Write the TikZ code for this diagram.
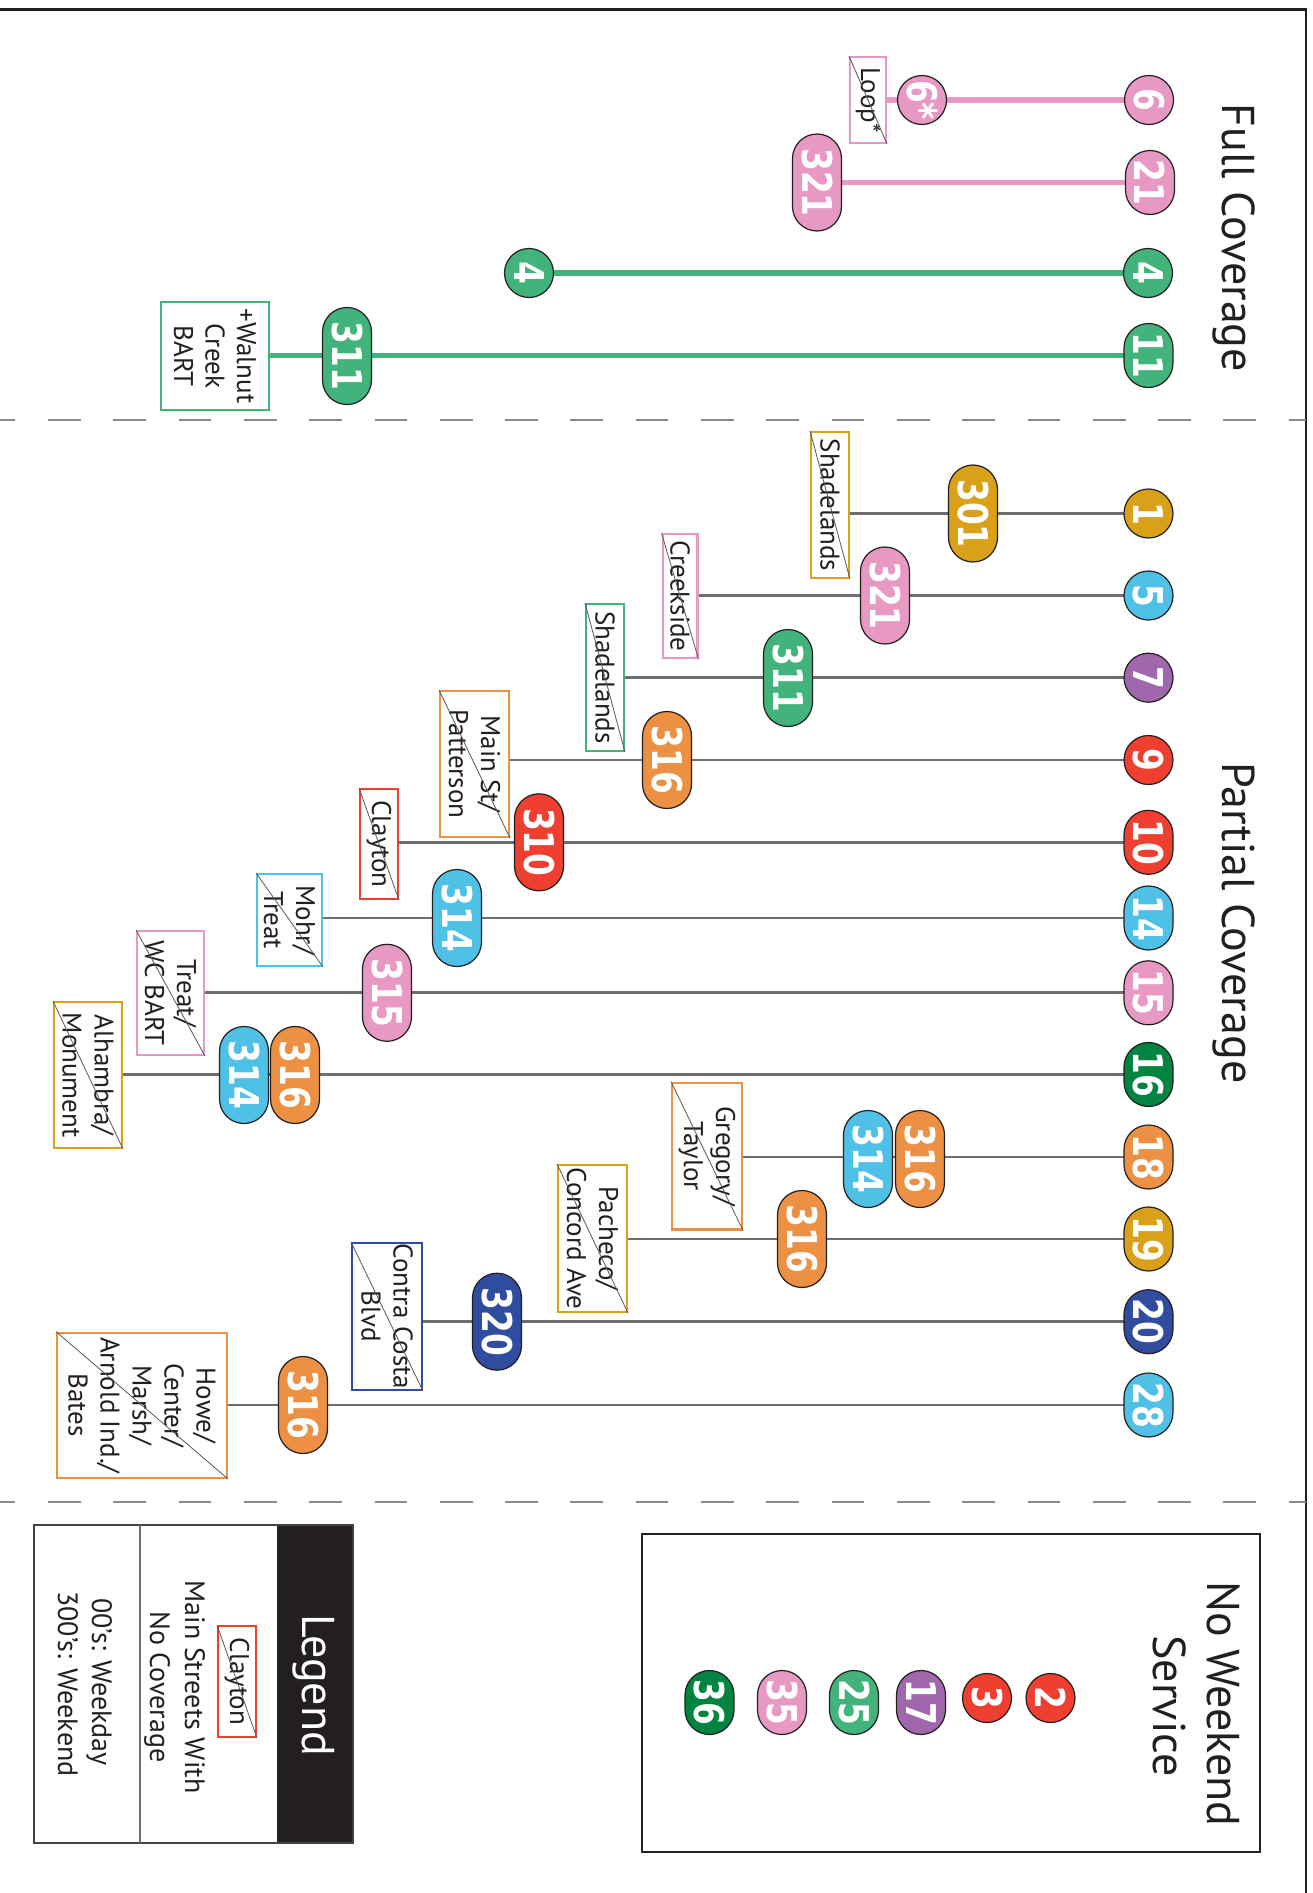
\documentclass[tikz,border=0pt]{standalone}
\usepackage{fontspec}
\setmainfont{PT Sans}
\newfontfamily\badgefont{DejaVu Sans}[FakeStretch=0.8]
\usetikzlibrary{backgrounds}
\definecolor{cpink}{HTML}{E899C3}
\definecolor{cgreen}{HTML}{42B47B}
\definecolor{cdgreen}{HTML}{00843F}
\definecolor{cgold}{HTML}{D9A11A}
\definecolor{cblue}{HTML}{4FC1E6}
\definecolor{cpurple}{HTML}{A167AC}
\definecolor{cred}{HTML}{EE3F31}
\definecolor{corange}{HTML}{EC9143}
\definecolor{cnavy}{HTML}{2F4C9F}
\definecolor{cink}{HTML}{231F20}
\definecolor{cline}{HTML}{6D6E71}
\definecolor{cdash}{HTML}{8A8A8C}
\begin{document}
\begin{tikzpicture}[x=1pt,y=-1pt,
  badge/.style={fill=#1, draw=cink, line width=1.2pt, rounded corners=24.5pt, rotate=-90,
    minimum height=49pt, minimum width=49pt, inner sep=0pt, text=white,
    font=\badgefont\bfseries\fontsize{41}{41}\selectfont},
  onebadge/.style={badge=#1},
  twobadge/.style={badge=#1, minimum width=64pt},
  threebadge/.style={badge=#1, minimum width=97pt},
  lbl/.style={draw=#1, fill=white, line width=2.4pt, rotate=-90, inner sep=0pt, align=center,
    text=cink, font=\fontsize{27}{32}\selectfont},
  strike/.style={draw=cink!75, line width=0.8pt},
  fullline/.style={draw=#1, line width=5.3pt},
  pline/.style={draw=cline, line width=2.7pt},
  title/.style={rotate=-90, anchor=base, inner sep=0pt, text=cink, font=\fontsize{46}{58}\selectfont},
  legtext/.style={rotate=-90, anchor=base, inner sep=0pt, text=cink, font=\fontsize{28}{35}\selectfont},
  sep/.style={draw=cdash, line width=2pt, dash pattern=on 32.7pt off 32.6pt, dash phase=17.3pt},
  frame/.style={draw=cink, line width=2.2pt}
]
\useasboundingbox (0,0) rectangle (1312,1893);

% frame and separators
\draw[frame] (0,9.5) -- (1306,9.5) -- (1306,1893);
\draw[sep] (0,419.5) -- (1306,419.5);
\draw[sep] (0,1502) -- (1306,1502);

% titles
\node[title] (tfull) at (1222,238) {Full Coverage};
\node[title] (tpart) at (1222,923) {Partial Coverage};
\node[title] (tnw1) at (1207,1704) {No Weekend};
\node[title] (tnw2) at (1153,1706) {Service};

% ---------- Full coverage ----------
\node[onebadge=cpink] (f6) at (1149,100) {6};
\node[onebadge=cpink] (f6s) at (922,100) {6*};
\node[lbl=cpink, minimum width=85.6pt, minimum height=35.6pt] (floop) at (868,100) {Loop*};
\draw[strike] (floop.south west) -- (floop.north east);

\node[twobadge=cpink] (f21) at (1150,182.5) {21};
\node[threebadge=cpink] (f321) at (817,182.5) {321};

\node[onebadge=cgreen] (f4r) at (1148,273) {4};
\node[onebadge=cgreen] (f4l) at (529,273) {4};

\node[twobadge=cgreen] (f11) at (1148.5,355.5) {11};
\node[threebadge=cgreen] (f311) at (347,356) {311};
\node[lbl=cgreen, minimum width=107.6pt, minimum height=107.6pt, font=\fontsize{27}{31.5}\selectfont] (fwal) at (215,356) {+Walnut\\Creek\\BART};

\begin{scope}[on background layer]
\draw[fullline=cpink] (f6.center) -- (f6.center -| floop.north);
\draw[fullline=cpink] (f21.center) -- (f21.center -| f321.center);
\draw[fullline=cgreen] (f4r.center) -- (f4l.center);
\draw[fullline=cgreen] (f11.center) -- (f11.center -| fwal.north);
\end{scope}

% ---------- Partial coverage ----------
% row 1
\node[onebadge=cgold] (r1) at (1148.5,513.5) {1};
\node[threebadge=cgold] (m1) at (973,513.5) {301};
\node[lbl=cgold, minimum width=145.6pt, minimum height=37.6pt] (l1) at (830,505) {Shadelands};
% row 5
\node[onebadge=cblue] (r5) at (1148.5,595.5) {5};
\node[threebadge=cpink] (m5) at (885,595.5) {321};
\node[lbl=cpink, minimum width=123.6pt, minimum height=34.6pt] (l5) at (680,596) {Creekside};
% row 7
\node[onebadge=cpurple] (r7) at (1148.5,677.7) {7};
\node[threebadge=cgreen] (m7) at (788,678) {311};
\node[lbl=cgreen, minimum width=146.6pt, minimum height=37.6pt] (l7) at (605,677.5) {Shadelands};
% row 9
\node[onebadge=cred] (r9) at (1148.5,760) {9};
\node[threebadge=corange] (m9) at (667,760) {316};
\node[lbl=corange, minimum width=145.6pt, minimum height=68.6pt] (l9) at (474.5,764) {Main St/\\Patterson};
% row 10
\node[twobadge=cred] (r10) at (1148.5,842.3) {10};
\node[threebadge=cred] (m10) at (539,842.3) {310};
\node[lbl=cred, minimum width=109.6pt, minimum height=37.6pt] (l10) at (379,844) {Clayton};
% row 14
\node[twobadge=cblue] (r14) at (1148.5,918) {14};
\node[threebadge=cblue] (m14) at (457,918) {314};
\node[lbl=cblue, minimum width=91.6pt, minimum height=64.6pt] (l14) at (289.5,920) {Mohr/\\Treat};
% row 15
\node[twobadge=cpink] (r15) at (1148.5,992.8) {15};
\node[threebadge=cpink] (m15) at (387,992.8) {315};
\node[lbl=cpink, minimum width=123.6pt, minimum height=66.6pt] (l15) at (170.5,993) {Treat/\\WC BART};
% row 16
\node[twobadge=cdgreen] (r16) at (1148.5,1074.5) {16};
\node[threebadge=corange] (m16a) at (295,1075) {316};
\node[threebadge=cblue] (m16b) at (244,1075) {314};
\node[lbl=cgold, minimum width=145.6pt, minimum height=67.6pt] (l16) at (88,1075) {Alhambra/\\Monument};
% row 18
\node[twobadge=corange] (r18) at (1148.5,1157) {18};
\node[threebadge=corange] (m18a) at (920,1159) {316};
\node[threebadge=cblue] (m18b) at (868,1159) {314};
\node[lbl=corange, minimum width=146.6pt, minimum height=69.6pt] (l18) at (707,1156) {Gregory/\\Taylor};
% row 19
\node[twobadge=cgold] (r19) at (1148.5,1239) {19};
\node[threebadge=corange] (m19) at (802,1239) {316};
\node[lbl=cgold, minimum width=146.6pt, minimum height=68.6pt] (l19) at (592.5,1238.5) {Pacheco/\\Concord Ave};
% row 20
\node[twobadge=cnavy] (r20) at (1148.5,1321.7) {20};
\node[threebadge=cnavy] (m20) at (497,1321.7) {320};
\node[lbl=cnavy, minimum width=146.6pt, minimum height=69.6pt] (l20) at (387,1316.5) {Contra Costa\\Blvd};
% row 28
\node[twobadge=cblue] (r28) at (1148.5,1405) {28};
\node[threebadge=corange] (m28) at (303,1405) {316};
\node[lbl=corange, minimum width=145pt, minimum height=169.6pt] (l28) at (142,1405.3) {Howe/\\Center/\\Marsh/\\Arnold Ind./\\Bates};

\foreach \l in {l1,l5,l7,l9,l10,l14,l15,l16,l18,l19,l20,l28}
  \draw[strike] (\l.south west) -- (\l.north east);

\begin{scope}[on background layer]
\foreach \r/\l in {r1/l1,r5/l5,r7/l7,r9/l9,r10/l10,r14/l14,r15/l15,r16/l16,r18/l18,r19/l19,r20/l20,r28/l28}
  \draw[pline] (\r.center) -- (\r.center -| \l.north);
\end{scope}

% ---------- No weekend service ----------
\draw[frame, line width=2.5pt] (642,1534) rectangle (1260,1852);
\node[twobadge=cdgreen] (n36) at (709.5,1702.5) {36};
\node[twobadge=cpink] (n35) at (782,1702.5) {35};
\node[twobadge=cgreen] (n25) at (854,1702.5) {25};
\node[twobadge=cpurple] (n17) at (921,1702.5) {17};
\node[onebadge=cred] (n3) at (987,1698) {3};
\node[onebadge=cred] (n2) at (1050.5,1698) {2};

% ---------- Legend ----------
\fill[cink] (277,1525) rectangle (353,1843);
\draw[frame, line width=2.5pt, draw=cink!85] (34,1525) rectangle (353,1843);
\draw[draw=cline, line width=1.2pt] (140,1525) -- (140,1843);
\node[title, text=white] (leg) at (302,1685) {Legend};
\node[lbl=cred, minimum width=110.6pt, minimum height=37.6pt] (legc) at (237,1681.5) {Clayton};
\draw[strike] (legc.south west) -- (legc.north east);
\node[legtext] (leg1) at (185,1687) {Main Streets With};
\node[legtext] (leg2) at (150,1687) {No Coverage};
\node[legtext] (leg3) at (92,1682) {00’s: Weekday};
\node[legtext] (leg4) at (58,1684) {300’s: Weekend};
\end{tikzpicture}
\end{document}
